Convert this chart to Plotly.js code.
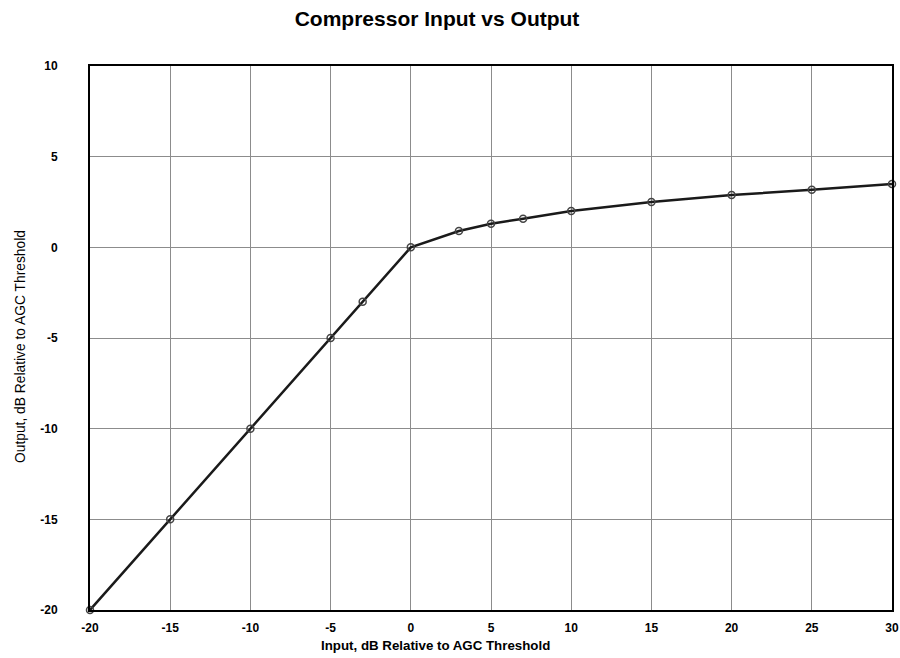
<!DOCTYPE html>
<html>
<head>
<meta charset="utf-8">
<script src="https://cdn.plot.ly/plotly-3.0.1.min.js"></script>
<style>html,body{margin:0;padding:0;background:#fff;}#chart{width:900px;height:658px;}</style>
</head>
<body>
<div id="chart"></div>
<script>
const inputDb = [-20, -15, -10, -5, -3, 0, 3, 5, 7, 10, 15, 20, 25, 30];
const outputDb = [-20, -15, -10, -5, -3, 0, 0.9, 1.3, 1.58, 2.0, 2.5, 2.88, 3.18, 3.49];
const xTicks = [-20, -15, -10, -5, 0, 5, 10, 15, 20, 25, 30];
const yTicks = [-20, -15, -10, -5, 0, 5, 10];
const xTitle = 'Input, dB Relative to AGC Threshold';
const yTitle = 'Output, dB Relative to AGC Threshold';

const font = {family: 'Liberation Sans, Arial, sans-serif', color: '#000'};
const L = 90, R = 8, T = 66, B = 48, W = 900, H = 658;
const pw = W - L - R, ph = H - T - B;

Plotly.newPlot('chart', [{
  x: inputDb, y: outputDb, type: 'scatter', mode: 'lines+markers',
  line: {color: '#1a1a1a', width: 2.5},
  marker: {symbol: 'circle-open', size: 7, color: '#444', line: {width: 1.5, color: '#444'}},
  cliponaxis: false,
  hoverinfo: 'x+y'
}], {
  width: W, height: H,
  margin: {l: L, r: R, t: T, b: B},
  paper_bgcolor: '#fff', plot_bgcolor: '#fff',
  showlegend: false,
  title: {text: '<b>Compressor Input vs Output</b>', x: 0.4856, xanchor: 'center', y: 0.972, yanchor: 'middle',
          font: Object.assign({}, font, {size: 21})},
  xaxis: {
    range: [-20, 30], tickvals: xTicks, ticktext: xTicks.map(v => '<b>' + v + '</b>'),
    showgrid: true, gridcolor: '#8c8c8c', gridwidth: 1,
    zeroline: false, showline: true, linecolor: '#000', linewidth: 2, mirror: true,
    ticks: '', ticklabelstandoff: 6,
    tickfont: Object.assign({}, font, {size: 12})
  },
  yaxis: {
    range: [-20, 10], tickvals: yTicks, ticktext: yTicks.map(v => '<b>' + v + '</b>'),
    showgrid: true, gridcolor: '#8c8c8c', gridwidth: 1,
    zeroline: false, showline: true, linecolor: '#000', linewidth: 2, mirror: true,
    ticks: '', ticklabelstandoff: 28,
    tickfont: Object.assign({}, font, {size: 12})
  },
  annotations: [
    {text: '<b>' + xTitle + '</b>', xref: 'paper', yref: 'paper',
     x: (435 - L) / pw, y: (H - B - 645) / ph, xanchor: 'center', yanchor: 'middle',
     showarrow: false, font: Object.assign({}, font, {size: 13.3})},
    {text: yTitle, xref: 'paper', yref: 'paper', textangle: -90,
     x: (20 - L) / pw, y: (H - B - 347) / ph, xanchor: 'center', yanchor: 'middle',
     showarrow: false, font: Object.assign({}, font, {size: 13.8})}
  ]
}, {displayModeBar: false, staticPlot: true});
</script>
</body>
</html>
